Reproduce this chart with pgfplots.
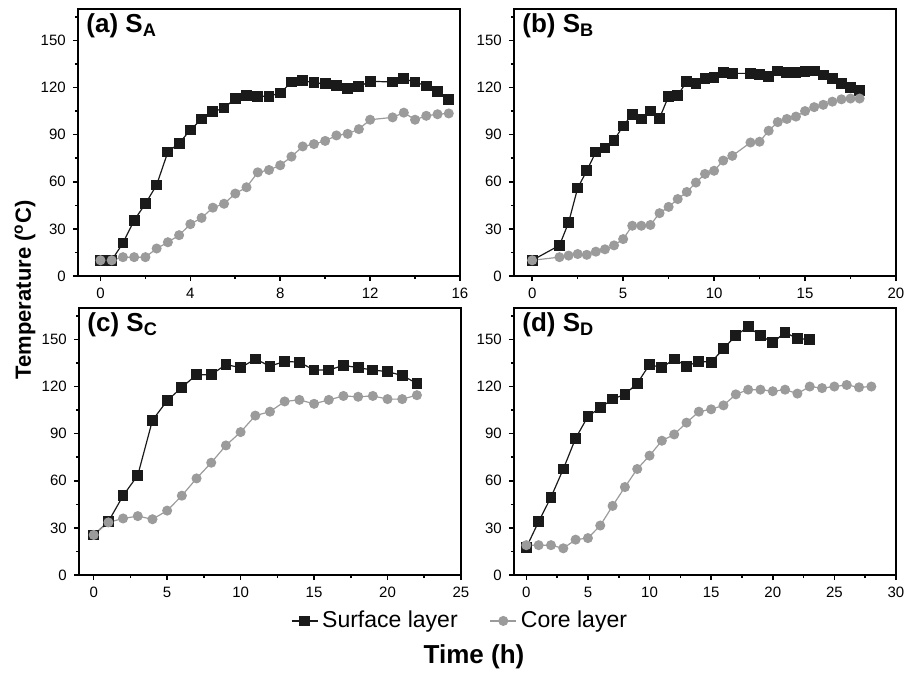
\documentclass[border=0pt]{standalone}
\usepackage{fontspec}
\setmainfont{Liberation Sans}
\usepackage{pgfplots}
\pgfplotsset{compat=1.18}
\definecolor{surfblack}{RGB}{26,26,26}
\definecolor{coregray}{RGB}{155,155,155}
\pgfplotsset{
    panel/.style={scale only axis, width=191pt, height=133.5pt,
        anchor=south west,
        ymin=0, ymax=170, ytick={0,30,...,150}, minor ytick={15,45,...,165},
        tick pos=left, tick align=outside,
        major tick length=2.6pt, minor tick length=1.6pt,
        axis line style={line width=0.9pt, black},
        every tick/.style={line width=0.8pt, black},
        tick label style={font=\fontsize{7.5}{8}\selectfont},
        /pgf/number format/assume math mode=true},
    surf/.style={color=surfblack, line width=0.6pt, mark=square*, mark size=2.4pt, mark options={solid}},
    core/.style={color=coregray, line width=0.6pt, mark=*, mark size=2.2pt, mark options={solid}},
}
\newcommand{\plab}[2]{\node[anchor=north west, inner sep=0pt, font=\bfseries\fontsize{13}{14}\selectfont]
    at (rel axis cs:0.021,0.985) {(#1) S\textsubscript{#2}};}
\begin{document}
\begin{tikzpicture}
\path[use as bounding box] (0,0) rectangle (453pt,-337.5pt);
% (a)
\begin{axis}[panel, at={(39pt,-138pt)}, xmin=-1, xmax=16, xtick={0,4,...,16}, minor xtick={2,6,10,14}]
\addplot[surf] coordinates {(0,10)(0.5,10)(1,21)(1.5,35.5)(2,46)(2.5,58)(3,79)(3.5,84.5)(4,93)(4.5,100)(5,104.5)(5.5,107)(6,113)(6.5,115)(7,114.5)(7.5,114.5)(8,116.5)(8.5,123.5)(9,124.5)(9.5,123)(10,122.5)(10.5,121.5)(11,119.5)(11.5,120.5)(12,124)(13,123.5)(13.5,125.5)(14,123.5)(14.5,121)(15,117.5)(15.5,112.5)};
\addplot[core] coordinates {(0,10)(0.5,10)(1,12)(1.5,12)(2,12)(2.5,17.5)(3,21.5)(3.5,26)(4,33)(4.5,37)(5,43.5)(5.5,46)(6,52.5)(6.5,56.5)(7,66)(7.5,67.5)(8,70.5)(8.5,76)(9,82.5)(9.5,84)(10,86)(10.5,89.5)(11,90.5)(11.5,93.5)(12,99.5)(13,101)(13.5,104)(14,99.5)(14.5,102)(15,103)(15.5,103.5)};
\plab{a}{A}
\end{axis}
% (b)
\begin{axis}[panel, at={(257pt,-138pt)}, xmin=-1, xmax=20, xtick={0,5,...,20}, minor xtick={2.5,7.5,12.5,17.5}]
\addplot[surf] coordinates {(0,10)(1.5,19.5)(2,34)(2.5,56)(3,67)(3.5,79)(4,81.5)(4.5,86.5)(5,95.5)(5.5,103)(6,100)(6.5,105)(7,100.5)(7.5,114.5)(8,115)(8.5,124)(9,122.5)(9.5,125.5)(10,126.5)(10.5,129.5)(11,129)(12,129)(12.5,128.5)(13,127)(13.5,130.5)(14,129.5)(14.5,129.5)(15,130)(15.5,130.5)(16,128)(16.5,125.5)(17,122.5)(17.5,120)(18,118)};
\addplot[core] coordinates {(0,10)(1.5,12)(2,13)(2.5,14)(3,13.5)(3.5,15.5)(4,17)(4.5,19.5)(5,23.5)(5.5,32)(6,32)(6.5,32.5)(7,40)(7.5,44)(8,49)(8.5,53.5)(9,59.5)(9.5,65)(10,67)(10.5,73.5)(11,76.5)(12,85)(12.5,85.5)(13,92.5)(13.5,98)(14,100)(14.5,101.5)(15,105)(15.5,107.5)(16,109)(16.5,111)(17,112.5)(17.5,113)(18,113)};
\plab{b}{B}
\end{axis}
% (c)
\begin{axis}[panel, at={(39.5pt,-287.5pt)}, xmin=-1, xmax=25, xtick={0,5,...,25}, minor xtick={2.5,7.5,...,22.5},
    legend columns=2,
    legend style={at={(1.0,-0.172)}, anchor=center, draw=none, fill=none,
        font=\fontsize{11.5}{13}\selectfont, /tikz/every even column/.append style={column sep=14pt}},
    legend image code/.code={\draw[mark repeat=2,mark phase=2] plot coordinates {(0pt,0pt) (6.5pt,0pt) (13pt,0pt)};}]
\addplot[surf] coordinates {(0,25.5)(1,34)(2,50.5)(3,63.5)(4,98.5)(5,111)(6,119.5)(7,127.5)(8,127.5)(9,134)(10,132)(11,137.5)(12,133)(13,136)(14,135.5)(15,130.5)(16,130.5)(17,133.5)(18,132)(19,130.5)(20,129.5)(21,127)(22,122)};
\addlegendentry{Surface layer}
\addplot[core] coordinates {(0,25.5)(1,33.5)(2,36)(3,37.5)(4,35.5)(5,41)(6,50.5)(7,61.5)(8,71.5)(9,82.5)(10,91)(11,101.5)(12,104)(13,110.5)(14,111.5)(15,109)(16,111.5)(17,114)(18,113.5)(19,114)(20,112)(21,112)(22,114.5)};
\addlegendentry{Core layer}
\plab{c}{C}
\end{axis}
% (d)
\begin{axis}[panel, at={(257pt,-287.5pt)}, xmin=-1, xmax=30, xtick={0,5,...,30}, minor xtick={2.5,7.5,...,27.5}]
\addplot[surf] coordinates {(0,17.5)(1,34)(2,49.5)(3,67.5)(4,87)(5,101)(6,106.5)(7,112)(8,115)(9,122)(10,134)(11,132)(12,137.5)(13,133)(14,136)(15,135.5)(16,144)(17,152.5)(18,158)(19,152.5)(20,148)(21,154.5)(22,150.5)(23,150)};
\addplot[core] coordinates {(0,19)(1,19)(2,19)(3,17)(4,22.5)(5,23.5)(6,31.5)(7,44)(8,56)(9,67.5)(10,76)(11,85.5)(12,89.5)(13,97)(14,104)(15,105.5)(16,108)(17,115)(18,118)(19,118)(20,117)(21,118)(22,115.5)(23,120)(24,119)(25,120)(26,121)(27,119.5)(28,120)};
\plab{d}{D}
\end{axis}
\node[rotate=90, font=\bfseries\fontsize{11}{12}\selectfont] at (12.5pt,-145pt) {Temperature (\textsuperscript{o}C)};
\node[font=\bfseries\fontsize{13}{14}\selectfont] at (237pt,-328.5pt) {Time (h)};
\end{tikzpicture}
\end{document}
